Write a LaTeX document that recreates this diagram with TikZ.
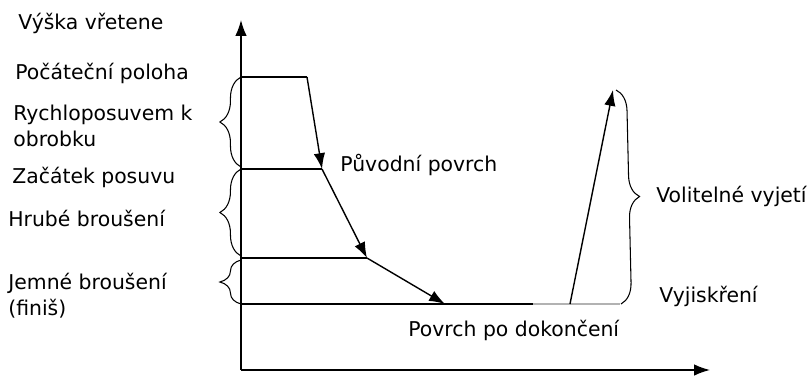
\documentclass[tikz,border=0pt]{standalone}
\usepackage{fontspec}
\setmainfont{DejaVu Sans}
\usetikzlibrary{arrows.meta,decorations.pathreplacing}

\tikzset{
  line/.style={line width=0.8pt},
  feed/.style={line width=0.8pt, -{Latex[length=9pt,width=6.5pt]}},
  lbrace/.style={decorate, decoration={brace, amplitude=12pt}, line width=0.6pt},
  label/.style={anchor=west, inner sep=0pt, font=\fontsize{11.6}{14.6}\selectfont, align=left}
}

\begin{document}
\begin{tikzpicture}
        \useasboundingbox (0, 0) rectangle (16.18, 7.52);

        % axes
        \coordinate (O) at (4.82, 0.12);
        \coordinate (ytop) at (4.82, 7.12);
        \coordinate (xend) at (14.2, 0.12);
        \draw[feed] (O) -- (ytop);
        \draw[feed] (O) -- (xend);

        % levels on the axis
        \coordinate (a0) at (4.82, 5.98);
        \coordinate (b0) at (4.82, 4.14);
        \coordinate (c0) at (4.82, 2.36);
        \coordinate (d0) at (4.82, 1.44);

        % grinding path
        \coordinate (start) at (6.14, 5.98);
        \coordinate (feedpt) at (6.44, 4.14);
        \coordinate (rough) at (7.34, 2.36);
        \coordinate (fine) at (8.9, 1.44);
        \coordinate (spark) at (10.66, 1.44);
        \coordinate (lift) at (11.4, 1.44);
        \coordinate (send) at (12.4, 1.44);
        \coordinate (top) at (12.26, 5.72);

        \draw[line] (a0) -- (start);
        \draw[line] (b0) -- (feedpt);
        \draw[line] (c0) -- (rough);
        \draw[line] (d0) -- (spark);
        \draw[line, gray!60] (spark) -- (send);

        \draw[feed] (start) -- (feedpt);
        \draw[feed] (feedpt) -- (rough);
        \draw[feed] (rough) -- (fine);
        \draw[feed] (lift) -- (top);

        % braces
        \draw[lbrace] (4.82, 4.18) -- (a0);
        \draw[lbrace] (4.82, 2.4) -- (b0);
        \draw[lbrace] (d0) -- (4.82, 2.32);
        \draw[lbrace] (12.32, 5.72) -- (12.42, 1.44);

        % labels
        \node[label] (spindle) at (0.36, 7.06) {Výška vřetene};
        \node[label] (initpos) at (0.3, 6.06) {Počáteční poloha};
        \node[label] (rapid) at (0.26, 5.0) {Rychloposuvem k\\obrobku};
        \node[label] (feedstart) at (0.24, 3.98) {Začátek posuvu};
        \node[label] (roughgr) at (0.16, 3.16) {Hrubé broušení};
        \node[label] (finegr) at (0.16, 1.6) {Jemné broušení\\(finiš)};
        \node[label] (origsurf) at (6.8, 4.22) {Původní povrch};
        \node[label] (retract) at (13.12, 3.6) {Volitelné vyjetí};
        \node[label] (sparkout) at (13.18, 1.6) {Vyjiskření};
        \node[label] (finsurf) at (8.16, 0.92) {Povrch po dokončení};
    \end{tikzpicture}
\end{document}
